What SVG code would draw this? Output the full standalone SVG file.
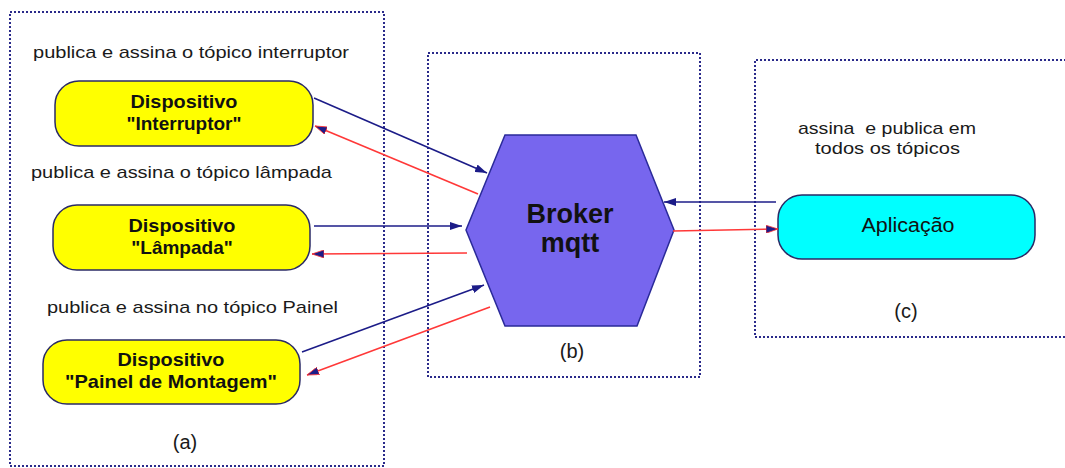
<svg xmlns="http://www.w3.org/2000/svg" width="1065" height="468" viewBox="0 0 1065 468">
<defs>
<style>
.frame{fill:none;stroke:#2a2a8a;stroke-width:2;stroke-dasharray:2 2}
.dev{fill:#ffff00;stroke:#2a2a66;stroke-width:1.5}
.app{fill:#00ffff;stroke:#2a2a66;stroke-width:1.5}
.lbl{font-family:"Liberation Sans",Arial,sans-serif;font-size:17px;fill:#1a1a1a;white-space:pre}
.ntx{font-family:"Liberation Sans",Arial,sans-serif;font-size:19px;font-weight:bold;fill:#111;text-anchor:middle}
.atx{font-family:"Liberation Sans",Arial,sans-serif;font-size:20px;fill:#111;text-anchor:middle}
.btx{font-family:"Liberation Sans",Arial,sans-serif;font-size:27px;font-weight:bold;fill:#111;text-anchor:middle}
.cap{font-family:"Liberation Sans",Arial,sans-serif;font-size:20px;fill:#1a1a1a;text-anchor:middle}
.blue{stroke:#1c1c88;stroke-width:1.6;fill:none;marker-end:url(#ab)}
.red{stroke:#ff3838;stroke-width:1.6;fill:none;marker-end:url(#ar)}
</style>
<marker id="ab" viewBox="0 0 12 8" refX="12" refY="4" markerWidth="12" markerHeight="8" markerUnits="userSpaceOnUse" orient="auto">
<path d="M0,0 L12,4 L0,8 Z" fill="#1c1c88"/>
</marker>
<marker id="ar" viewBox="0 0 12 8" refX="12" refY="4" markerWidth="12" markerHeight="8" markerUnits="userSpaceOnUse" orient="auto">
<path d="M0,0 L12,4 L0,8 Z" fill="#1c1c88" stroke="#ff3838" stroke-width="0.8"/>
</marker>
</defs>
<rect width="1065" height="468" fill="#ffffff"/>

<g id="frame-a">
<rect class="frame" x="10" y="12" width="374" height="454"/>
<text class="lbl" x="33" y="58" textLength="316" lengthAdjust="spacingAndGlyphs">publica e assina o tópico interruptor</text>
<text class="lbl" x="31" y="178" textLength="301" lengthAdjust="spacingAndGlyphs">publica e assina o tópico lâmpada</text>
<text class="lbl" x="47" y="313" textLength="291" lengthAdjust="spacingAndGlyphs">publica e assina no tópico Painel</text>
<text class="cap" x="185" y="449">(a)</text>
</g>

<g id="frame-b">
<rect class="frame" x="428" y="53" width="272" height="324"/>
<text class="cap" x="572" y="358">(b)</text>
</g>

<g id="frame-c">
<path class="frame" d="M1066,60 L755,60 L755,337 L1066,337"/>
<text class="lbl" x="798" y="134" textLength="178" lengthAdjust="spacingAndGlyphs">assina  e publica em</text>
<text class="lbl" x="815" y="154" textLength="145" lengthAdjust="spacingAndGlyphs">todos os tópicos</text>
<text class="cap" x="906" y="318">(c)</text>
</g>

<g id="node-interruptor">
<rect class="dev" x="55" y="81" width="258" height="65" rx="24"/>
<text class="ntx" x="184" y="108" textLength="107" lengthAdjust="spacingAndGlyphs">Dispositivo</text>
<text class="ntx" x="184" y="130" textLength="115" lengthAdjust="spacingAndGlyphs">"Interruptor"</text>
</g>

<g id="node-lampada">
<rect class="dev" x="53" y="205" width="257" height="65" rx="24"/>
<text class="ntx" x="182" y="232" textLength="107" lengthAdjust="spacingAndGlyphs">Dispositivo</text>
<text class="ntx" x="182" y="254">"Lâmpada"</text>
</g>

<g id="node-painel">
<rect class="dev" x="43" y="340" width="257" height="64" rx="24"/>
<text class="ntx" x="171" y="366" textLength="107" lengthAdjust="spacingAndGlyphs">Dispositivo</text>
<text class="ntx" x="171" y="388" textLength="212" lengthAdjust="spacingAndGlyphs">"Painel de Montagem"</text>
</g>

<g id="node-broker">
<polygon points="505,135 636,135 674,230 637,326 505,326 466,230" fill="#7766ee" stroke="#2a2a99" stroke-width="1.5"/>
<text class="btx" x="570" y="223">Broker</text>
<text class="btx" x="570" y="252">mqtt</text>
</g>

<g id="node-aplicacao">
<rect class="app" x="778" y="195" width="257" height="64" rx="24"/>
<text class="atx" x="908" y="232" textLength="93" lengthAdjust="spacingAndGlyphs">Aplicação</text>
</g>

<g id="connectors">
<line class="blue" x1="314" y1="98" x2="487" y2="173"/>
<line class="red" x1="478" y1="194" x2="315" y2="126"/>
<line class="blue" x1="314" y1="226" x2="462" y2="226"/>
<line class="red" x1="467" y1="253" x2="312" y2="254"/>
<line class="blue" x1="302" y1="352" x2="484" y2="285"/>
<line class="red" x1="490" y1="307" x2="307" y2="375"/>
<line class="blue" x1="776" y1="202" x2="664" y2="202"/>
<line class="red" x1="673" y1="231" x2="778" y2="229"/>
</g>
</svg>
